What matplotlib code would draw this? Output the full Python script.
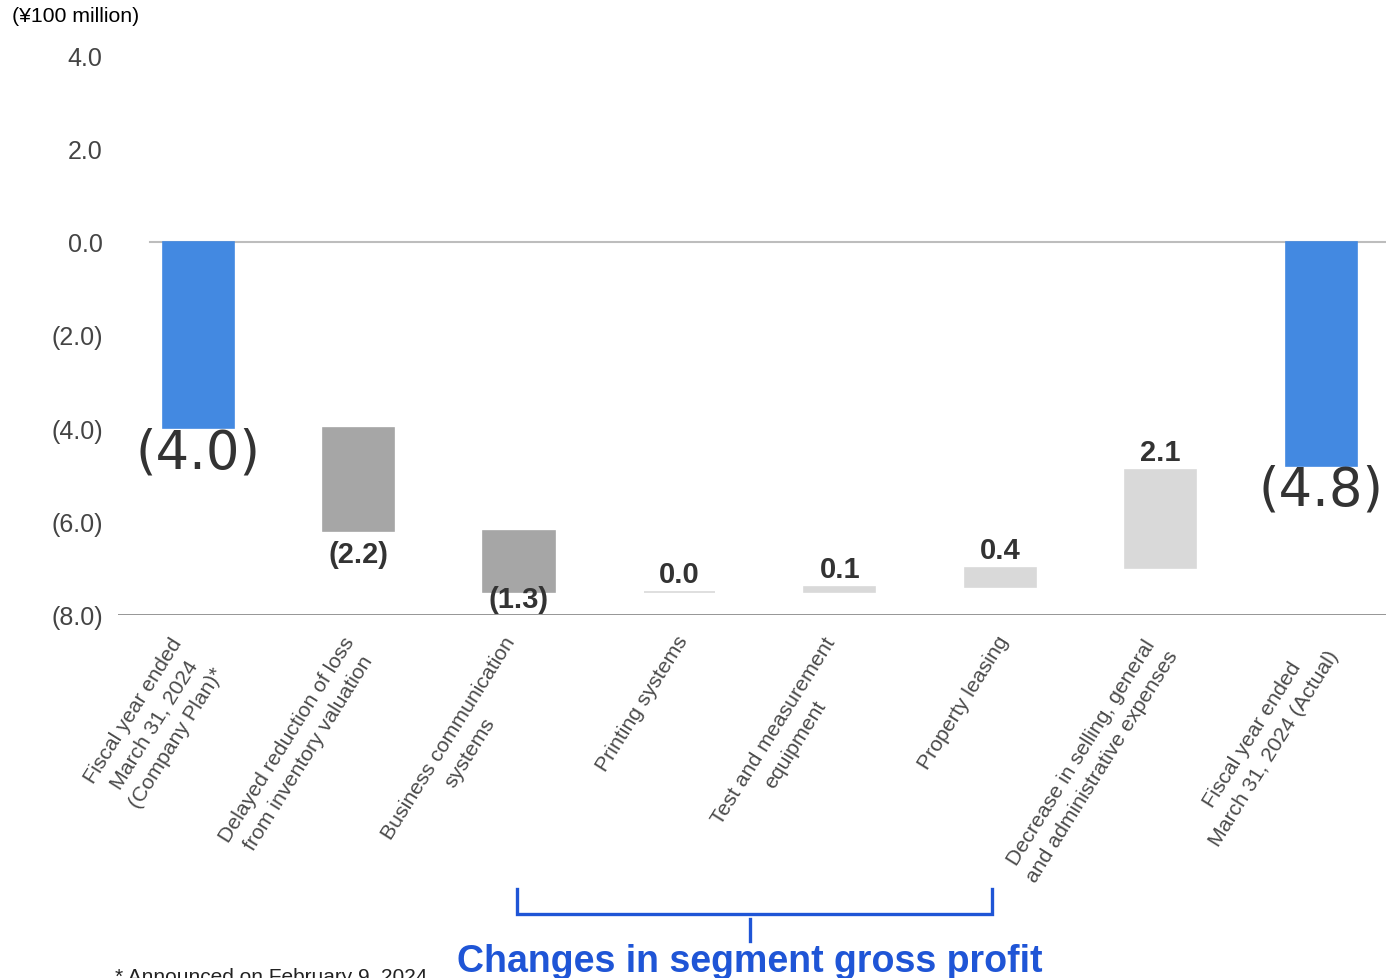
import numpy as np
import matplotlib.pyplot as plt
from matplotlib.lines import Line2D
from matplotlib.transforms import blended_transform_factory

plt.rcParams['font.family'] = ['Liberation Sans', 'DejaVu Sans']

# Operating profit bridge (unit: 100 million yen)
categories = [
    "Fiscal year ended\nMarch 31, 2024\n(Company Plan)*",
    "Delayed reduction of loss\nfrom inventory valuation",
    "Business communication\nsystems",
    "Printing systems",
    "Test and measurement\nequipment",
    "Property leasing",
    "Decrease in selling, general\nand administrative expenses",
    "Fiscal year ended\nMarch 31, 2024 (Actual)",
]
plan_value = -4.0
changes = [-2.2, -1.3, 0.0, 0.1, 0.4, 2.1]
actual_value = -4.8
y_ticks = [4.0, 2.0, 0.0, -2.0, -4.0, -6.0, -8.0]

BLUE = '#4389e1'
DARK = '#a6a6a6'
LIGHT = '#d9d9d9'
bar_colors = [BLUE, DARK, DARK, LIGHT, LIGHT, LIGHT, LIGHT, BLUE]


def fmt(v):
    return f"({abs(v):.1f})" if v < 0 else f"{v:.1f}"


# waterfall geometry
starts = [0.0]
heights = [plan_value]
level = plan_value
for c in changes:
    starts.append(level)
    heights.append(c)
    level += c
starts.append(0.0)
heights.append(actual_value)

x = np.arange(len(categories))

fig = plt.figure(figsize=(13.86, 9.79), dpi=100)
ax = fig.add_axes([118 / 1386, 1 - 616 / 979, 1268 / 1386, 560 / 979])
ax.set_xlim(-0.5, 7.405)
ax.set_ylim(-8, 4)

ax.bar(x, heights, bottom=starts, width=0.443, color=bar_colors,
       edgecolor=bar_colors, linewidth=1.2, zorder=3)

# reference lines at 0 and at the bottom of the scale
ax.axhline(0, xmin=32 / 1268, color='#bdbdbd', linewidth=1.5, zorder=2)
ax.axhline(-8, color='#8c8c8c', linewidth=2.0, zorder=2)

for s in ax.spines.values():
    s.set_visible(False)
ax.set_yticks(y_ticks)
ax.set_yticklabels([fmt(v) for v in y_ticks], fontsize=18, color='#444444')
ax.tick_params(axis='y', length=0, pad=11)
ax.set_xticks([])

# value labels
px = 0.72  # points per pixel at 100 dpi
for i, (s, h) in enumerate(zip(starts, heights)):
    top, bottom = max(s, s + h), min(s, s + h)
    if i in (0, len(categories) - 1):
        ax.annotate(fmt(h), (i, bottom), xytext=(0, -24 * px), textcoords='offset points',
                    ha='center', va='center', fontsize=38, color='#333333',
                    family='DejaVu Sans', zorder=4)
    elif h < 0:
        # keep the label clear of the bottom line
        y_px = min(23, (bottom - (-8)) * 46.67 - 16)
        ax.annotate(fmt(h), (i, bottom), xytext=(0, -y_px * px), textcoords='offset points',
                    ha='center', va='center', fontsize=21, fontweight='bold',
                    color='#333333', zorder=4)
    else:
        ax.annotate(fmt(h), (i, top), xytext=(0, 18 * px), textcoords='offset points',
                    ha='center', va='center', fontsize=21, fontweight='bold',
                    color='#333333', zorder=4)

# rotated category labels, anchored at the right end of the text block
for i, lab in enumerate(categories):
    n = lab.count("\n")
    ax.annotate(lab, (i, -8), xytext=((4 - 1.5 * n) * px, -(22 + 8 * n) * px),
                textcoords='offset points', rotation=58, rotation_mode='anchor',
                ha='right', va='center', multialignment='center', fontsize=15.3,
                color='#4a4a4a', linespacing=1.45, annotation_clip=False)

# unit label and footnote
fig.text(12 / 1386, 1 - 17 / 979, "(¥100 million)", fontsize=15.3, va='center', ha='left')
fig.text(115 / 1386, 1 - 983 / 979, "* Announced on February 9, 2024", fontsize=15,
         va='baseline', ha='left', color='#222222')

# bracket grouping the segment changes
BRACKET = '#1f55d6'
tr = blended_transform_factory(ax.transData, fig.transFigure)
xl, xr, xm = 1.99, 4.95, 3.44
yb, yt = 1 - 915 / 979, 1 - 890 / 979
for xs, ys in [([xl, xl, xr, xr], [yt, yb, yb, yt]),
               ([xm, xm], [1 - 920 / 979, 1 - 942 / 979])]:
    fig.add_artist(Line2D(xs, ys, transform=tr, color=BRACKET, linewidth=2.4,
                          solid_joinstyle='miter'))
fig.text(xm, 1 - 972 / 979, "Changes in segment gross profit", transform=tr,
         fontsize=27, fontweight='bold', color=BRACKET, ha='center', va='baseline')

fig.savefig('out.png', dpi=100)
